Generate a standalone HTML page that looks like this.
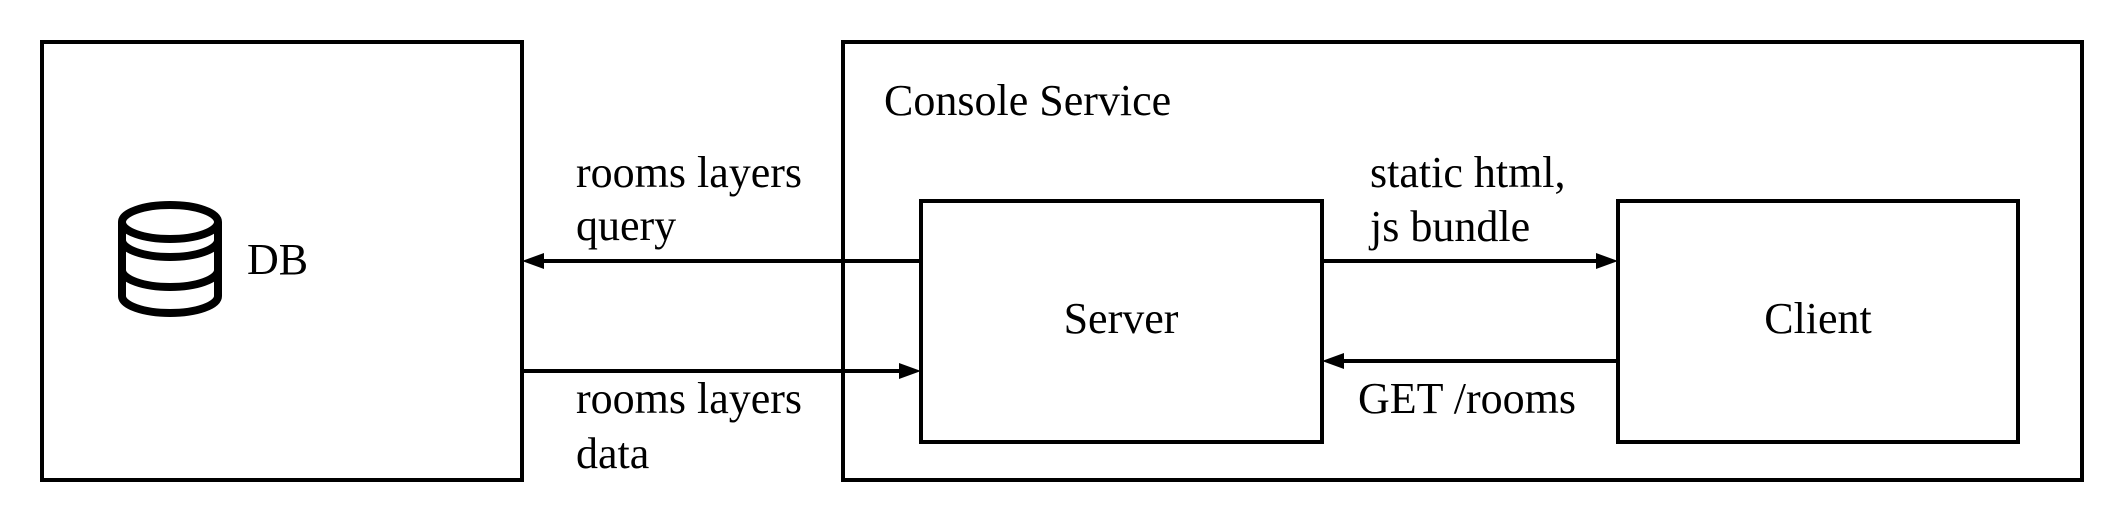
<!DOCTYPE html>
<html><head><meta charset="utf-8"><style>
html,body{margin:0;padding:0;background:#fff;}
svg{display:block}
text{font-family:'Liberation Serif','Times New Roman',Times,'DejaVu Serif',serif;font-size:44px;fill:#000}
</style></head><body>
<svg width="2124" height="524" viewBox="0 0 2124 524" xmlns="http://www.w3.org/2000/svg">
<g fill="none" stroke="#000" stroke-width="4">
<rect x="42" y="42" width="480" height="438"/>
<rect x="843" y="42" width="1239" height="438"/>
<rect x="921" y="201" width="401" height="241"/>
<rect x="1618" y="201" width="400" height="241"/>
<line x1="921" y1="261" x2="540" y2="261"/>
<line x1="522" y1="371" x2="903" y2="371"/>
<line x1="1322" y1="261" x2="1600" y2="261"/>
<line x1="1618" y1="361" x2="1340" y2="361"/>
</g>
<g fill="#000">
<polygon points="522,261 544,253 544,269"/>
<polygon points="921,371 899,363 899,379"/>
<polygon points="1618,261 1596,253 1596,269"/>
<polygon points="1322,361 1344,353 1344,369"/>
</g>
<g fill="none" stroke="#000" stroke-width="8">
<ellipse cx="170" cy="222" rx="48" ry="17"/>
<path d="M122 222 V296 A48 17 0 0 0 218 296 V222"/>
<path d="M122 240 A48 17 0 0 0 218 240"/>
<path d="M122 270 A48 17 0 0 0 218 270"/>
</g>
<g font-family="Liberation Serif, serif" font-size="44">
<text x="247" y="274">DB</text>
<text x="884" y="115">Console Service</text>
<text x="576" y="187">rooms layers</text>
<text x="576" y="240">query</text>
<text x="576" y="413">rooms layers</text>
<text x="576" y="468">data</text>
<text x="1121" y="333" text-anchor="middle">Server</text>
<text x="1818" y="333" text-anchor="middle">Client</text>
<text x="1370" y="187">static html,</text>
<text x="1370" y="241">js bundle</text>
<text x="1358" y="413">GET /rooms</text>
</g>
</svg>
</body></html>
